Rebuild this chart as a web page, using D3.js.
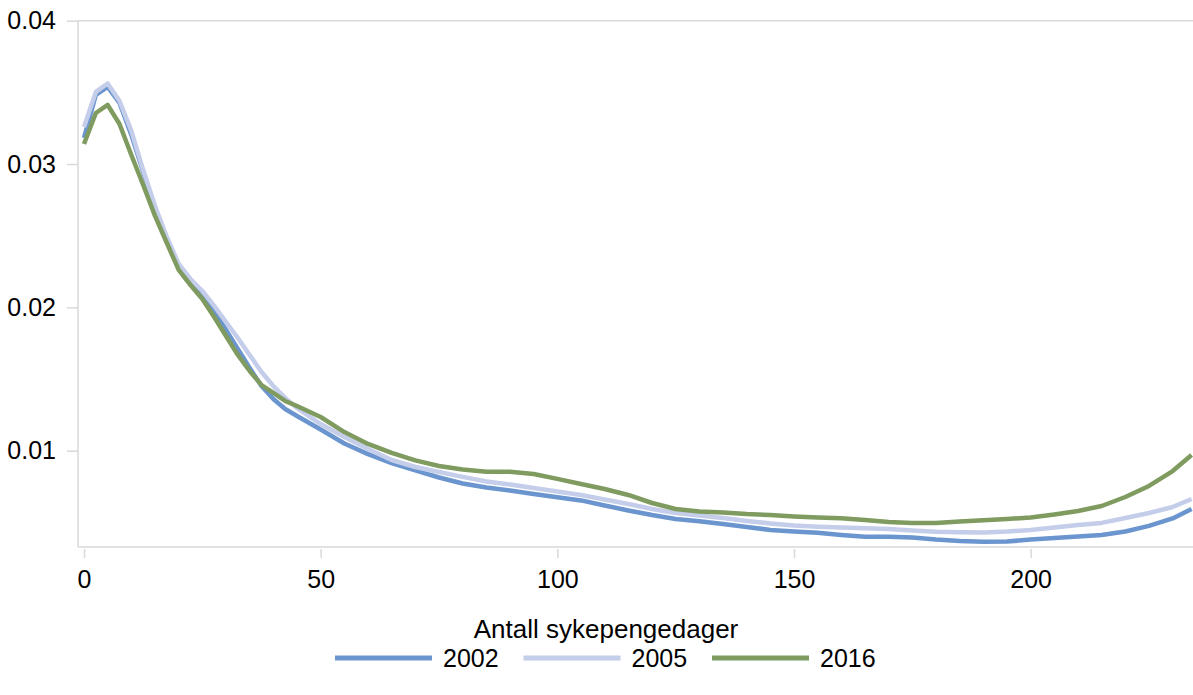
<!DOCTYPE html>
<html>
<head>
<meta charset="utf-8">
<script src="https://cdn.jsdelivr.net/npm/d3@7"></script>
<style>
  body { margin: 0; background: #fff; }
  svg { display: block; font-family: "Liberation Sans", Arial, sans-serif; }
</style>
</head>
<body>
<div id="chart"></div>
<script>
// days on the x axis
var days = [0, 2.5, 5, 7.5, 10, 12.5, 15, 17.5, 20, 22.5, 25, 27.5, 30, 32.5, 35, 37.5, 40, 42.5, 45,
    50, 55, 60, 65, 70, 75, 80, 85, 90, 95, 100, 105, 110, 115, 120, 125, 130, 135, 140, 145, 150,
    155, 160, 165, 170, 175, 180, 185, 190, 195, 200, 205, 210, 215, 220, 225, 230, 234];

var y2002 = [0.03182, 0.03482, 0.03538, 0.03426, 0.03203, 0.02945, 0.02693, 0.02477, 0.02289, 0.02184,
    0.02086, 0.01975, 0.01842, 0.01710, 0.01577, 0.01451, 0.01361, 0.01291, 0.01242,
    0.01148, 0.01050, 0.00976, 0.00913, 0.00862, 0.00813, 0.00771, 0.00743, 0.00722, 0.00698, 0.00675,
    0.00653, 0.00618, 0.00583, 0.00551, 0.00524, 0.00508, 0.00489, 0.00468, 0.00447, 0.00436,
    0.00427, 0.00412, 0.00400, 0.00400, 0.00394, 0.00380, 0.00370, 0.00365, 0.00366, 0.00380,
    0.00391, 0.00401, 0.00412, 0.00436, 0.00475, 0.00527, 0.00593];

var y2005 = [0.03258, 0.03503, 0.03562, 0.03440, 0.03231, 0.02958, 0.02707, 0.02491, 0.02303, 0.02198,
    0.02114, 0.02010, 0.01898, 0.01786, 0.01668, 0.01549, 0.01451, 0.01368, 0.01298,
    0.01186, 0.01096, 0.01012, 0.00935, 0.00886, 0.00851, 0.00817, 0.00785, 0.00764, 0.00740, 0.00715,
    0.00691, 0.00660, 0.00628, 0.00593, 0.00565, 0.00548, 0.00530, 0.00510, 0.00492, 0.00478,
    0.00470, 0.00464, 0.00459, 0.00454, 0.00443, 0.00434, 0.00431, 0.00429, 0.00436, 0.00447,
    0.00464, 0.00482, 0.00496, 0.00530, 0.00565, 0.00607, 0.00663];

var y2016 = [0.03140, 0.03356, 0.03412, 0.03279, 0.03063, 0.02854, 0.02638, 0.02449, 0.02261, 0.02156,
    0.02058, 0.01933, 0.01800, 0.01668, 0.01556, 0.01458, 0.01403, 0.01347, 0.01312,
    0.01235, 0.01130, 0.01047, 0.00984, 0.00932, 0.00893, 0.00869, 0.00853, 0.00853, 0.00837, 0.00803,
    0.00768, 0.00733, 0.00691, 0.00635, 0.00593, 0.00576, 0.00569, 0.00558, 0.00551, 0.00541,
    0.00534, 0.00528, 0.00516, 0.00503, 0.00496, 0.00496, 0.00506, 0.00515, 0.00523, 0.00534,
    0.00555, 0.00579, 0.00614, 0.00677, 0.00754, 0.00858, 0.00970];

var seriesNames = ["2002", "2005", "2016"];
var seriesColors = ["#6b95ce", "#c4cdea", "#7f9b60"];
var xTicks = [0, 50, 100, 150, 200];
var yTicks = [0.01, 0.02, 0.03, 0.04];
var xTitle = "Antall sykepengedager";

var width = 1193, height = 695;
var plotLeft = 78, plotRight = 1193, plotTop = 20.7, plotBottom = 547;
var axisColor = "#d9d9d9";
var fontSize = 25;

var svg = d3.select("#chart").append("svg")
    .attr("width", width)
    .attr("height", height);

var x = d3.scaleLinear().domain([-1.27, 234.3]).range([plotLeft, plotRight]);
var y = d3.scaleLinear().domain([0.00328, 0.04]).range([plotBottom, plotTop]);

// top line at 0.04
svg.append("line")
    .attr("x1", plotLeft).attr("x2", plotRight)
    .attr("y1", y(0.04)).attr("y2", y(0.04))
    .attr("stroke", axisColor).attr("stroke-width", 1.5);

// left and bottom frame
svg.append("line")
    .attr("x1", plotLeft).attr("x2", plotLeft)
    .attr("y1", plotTop).attr("y2", plotBottom)
    .attr("stroke", axisColor).attr("stroke-width", 1.5);
svg.append("line")
    .attr("x1", plotLeft).attr("x2", plotRight)
    .attr("y1", plotBottom).attr("y2", plotBottom)
    .attr("stroke", axisColor).attr("stroke-width", 1.5);

var yAxis = svg.append("g")
    .attr("transform", "translate(" + plotLeft + ",0)")
    .call(d3.axisLeft(y).tickValues(yTicks).tickSize(11).tickPadding(11)
        .tickFormat(d3.format(".2f")));
yAxis.select(".domain").remove();
yAxis.selectAll(".tick line").attr("stroke", axisColor).attr("stroke-width", 1.5);
yAxis.selectAll(".tick text").attr("fill", "#000").style("font-size", fontSize + "px")
    .style("font-family", "Liberation Sans, Arial, sans-serif");

var xAxis = svg.append("g")
    .attr("transform", "translate(0," + (plotBottom + 2) + ")")
    .call(d3.axisBottom(x).tickValues(xTicks).tickSize(9).tickPadding(12));
xAxis.select(".domain").remove();
xAxis.selectAll(".tick line").attr("stroke", axisColor).attr("stroke-width", 1.5);
xAxis.selectAll(".tick text").attr("fill", "#000").style("font-size", fontSize + "px")
    .style("font-family", "Liberation Sans, Arial, sans-serif");

svg.append("text")
    .attr("x", 606).attr("y", 638)
    .attr("text-anchor", "middle")
    .style("font-size", "26px")
    .text(xTitle);

var allSeries = [y2002, y2005, y2016];

svg.append("clipPath").attr("id", "plot-clip")
    .append("rect")
    .attr("x", plotLeft).attr("y", 0)
    .attr("width", plotRight - plotLeft).attr("height", plotBottom);

var line = d3.line()
    .x(function (d) { return x(d[0]); })
    .y(function (d) { return y(d[1]); });

svg.append("g")
    .attr("clip-path", "url(#plot-clip)")
    .selectAll("path")
    .data(allSeries)
    .enter().append("path")
    .attr("d", function (vals) { return line(days.map(function (d, i) { return [d, vals[i]]; })); })
    .attr("fill", "none")
    .attr("stroke", function (d, i) { return seriesColors[i]; })
    .attr("stroke-width", 4.5)
    .attr("stroke-linejoin", "round");

// legend
var legend = svg.append("g").attr("transform", "translate(335,658)");
var item = legend.selectAll("g")
    .data(seriesNames)
    .enter().append("g")
    .attr("transform", function (d, i) { return "translate(" + (i * 188.5) + ",0)"; });
item.append("line")
    .attr("x1", 0).attr("x2", 97)
    .attr("stroke", function (d, i) { return seriesColors[i]; })
    .attr("stroke-width", 5);
item.append("text")
    .attr("x", 108).attr("y", 9)
    .style("font-size", fontSize + "px")
    .text(function (d) { return d; });
</script>
</body>
</html>
